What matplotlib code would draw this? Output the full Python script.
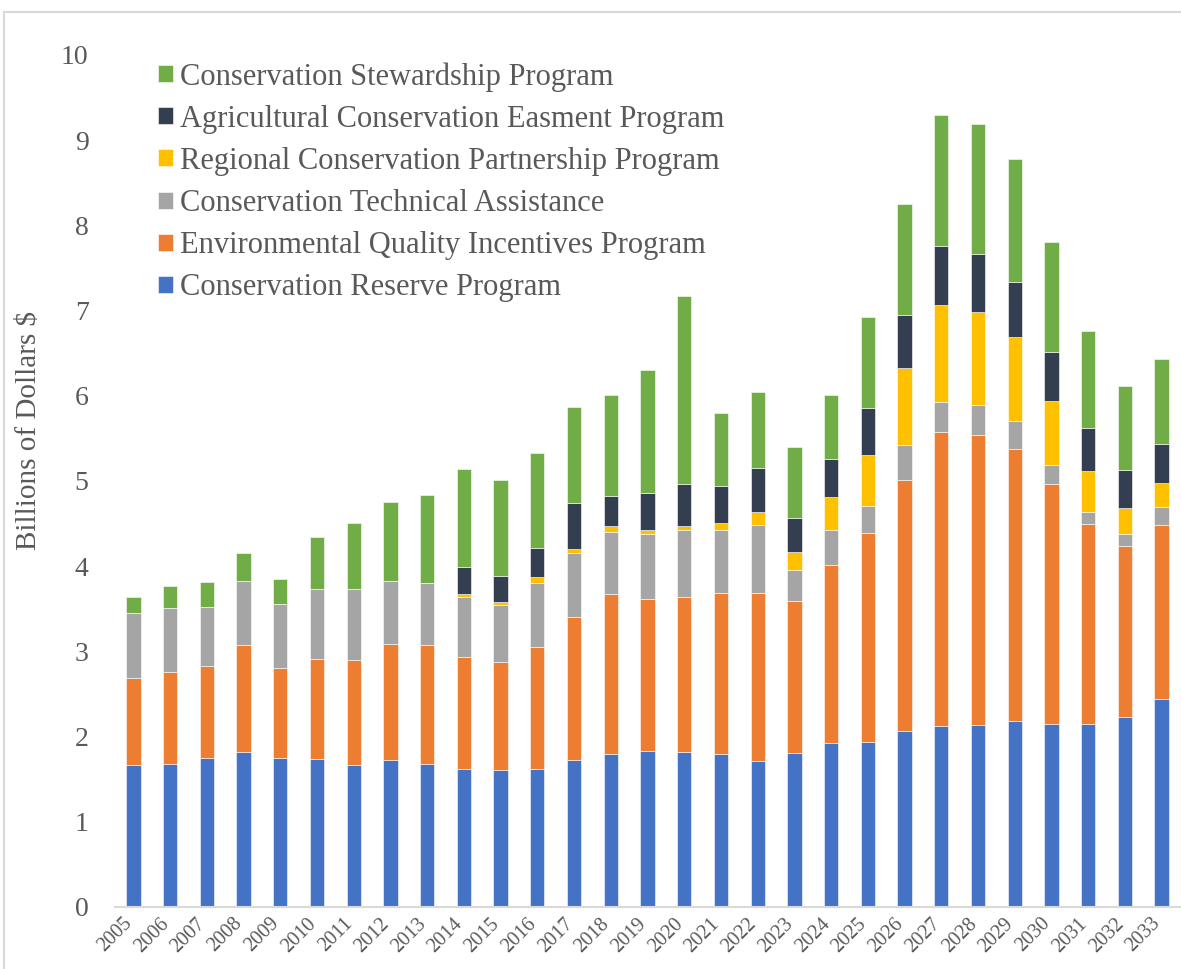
import numpy as np
import matplotlib
matplotlib.use("Agg")
import matplotlib.pyplot as plt
import matplotlib.transforms as mtransforms
from matplotlib.lines import Line2D

plt.rcParams['font.family'] = ['Liberation Serif', 'DejaVu Serif']

years = [str(y) for y in range(2005, 2034)]

# billions of dollars
crp = [1.67, 1.68, 1.75, 1.82, 1.75, 1.74, 1.67, 1.73, 1.68, 1.62, 1.61, 1.62, 1.73, 1.80, 1.83,
       1.82, 1.80, 1.71, 1.81, 1.92, 1.94, 2.07, 2.13, 2.14, 2.18, 2.15, 2.15, 2.23, 2.44]
eqip = [1.02, 1.08, 1.08, 1.25, 1.06, 1.17, 1.23, 1.36, 1.40, 1.32, 1.26, 1.43, 1.67, 1.87, 1.79,
        1.82, 1.88, 1.97, 1.78, 2.09, 2.45, 2.94, 3.44, 3.40, 3.20, 2.82, 2.34, 2.01, 2.04]
cta = [0.76, 0.75, 0.69, 0.76, 0.75, 0.82, 0.83, 0.74, 0.72, 0.70, 0.67, 0.75, 0.76, 0.73, 0.76,
       0.78, 0.75, 0.80, 0.37, 0.41, 0.32, 0.41, 0.36, 0.35, 0.33, 0.22, 0.15, 0.14, 0.21]
rcpp = [0, 0, 0, 0, 0, 0, 0, 0, 0, 0.03, 0.04, 0.07, 0.04, 0.07, 0.05,
        0.05, 0.08, 0.16, 0.21, 0.39, 0.60, 0.91, 1.13, 1.09, 0.98, 0.75, 0.48, 0.30, 0.29]
acep = [0, 0, 0, 0, 0, 0, 0, 0, 0, 0.32, 0.30, 0.34, 0.54, 0.35, 0.43,
        0.49, 0.43, 0.51, 0.39, 0.45, 0.55, 0.62, 0.70, 0.68, 0.65, 0.57, 0.50, 0.45, 0.45]
csp = [0.19, 0.26, 0.29, 0.32, 0.29, 0.61, 0.78, 0.92, 1.03, 1.15, 1.13, 1.12, 1.13, 1.19, 1.44,
       2.21, 0.86, 0.90, 0.84, 0.75, 1.06, 1.30, 1.54, 1.53, 1.44, 1.30, 1.14, 0.99, 1.00]

series = [
    ("Conservation Reserve Program", crp, "#4472C4"),
    ("Environmental Quality Incentives Program", eqip, "#ED7D31"),
    ("Conservation Technical Assistance", cta, "#A5A5A5"),
    ("Regional Conservation Partnership Program", rcpp, "#FFC000"),
    ("Agricultural Conservation Easment Program", acep, "#333F50"),
    ("Conservation Stewardship Program", csp, "#70AD47"),
]

txt = "#595959"
W, H = 1181, 969

fig = plt.figure(figsize=(W / 100, H / 100), dpi=100)
ax = fig.add_axes([115 / W, 1 - 907 / H, 1065 / W, 852 / H])

x = np.arange(len(years))
bottom = np.zeros(len(years))
for name, vals, col in series:
    ax.bar(x, vals, width=0.39, bottom=bottom, color=col, label=name,
           edgecolor="white", linewidth=0.4)
    bottom += np.array(vals)

ax.set_xlim(-0.5, len(years) - 0.5)
ax.set_ylim(0, 10)
ax.set_yticks(range(0, 11))
ax.tick_params(axis='y', length=0, pad=19, labelsize=20, labelcolor=txt)
ax.tick_params(axis='x', length=0, pad=10, labelsize=14.5, labelcolor=txt)
ax.set_xticks(x)
ax.set_xticklabels(years, rotation=45, ha='right', va='center', rotation_mode='anchor')
shift = mtransforms.ScaledTranslation(-4 / 100, 0, fig.dpi_scale_trans)
for lab in ax.get_xticklabels():
    lab.set_transform(lab.get_transform() + shift)

for s in ['top', 'right', 'left']:
    ax.spines[s].set_visible(False)
ax.spines['bottom'].set_color('#D9D9D9')
ax.spines['bottom'].set_linewidth(1.5)

ax.set_ylabel("Billions of Dollars $", fontsize=21, color=txt)
ax.yaxis.set_label_coords((42 - 115) / 1065, (907 - 431) / 852)

h, l = ax.get_legend_handles_labels()
leg = ax.legend(h[::-1], l[::-1], loc='upper left', bbox_to_anchor=(158 / W, 1 - 62 / H),
                bbox_transform=fig.transFigure, frameon=False, fontsize=22,
                handlelength=0.48, handleheight=0.48, handletextpad=0.23,
                labelspacing=0.43, borderpad=0, borderaxespad=0)
for t in leg.get_texts():
    t.set_color(txt)

# chart area border (only top and left edges are visible in the crop)
fig.add_artist(Line2D([4 / W, 1], [1 - 12 / H, 1 - 12 / H], transform=fig.transFigure,
                      color='#D9D9D9', linewidth=1.5))
fig.add_artist(Line2D([4 / W, 4 / W], [0, 1 - 12 / H], transform=fig.transFigure,
                      color='#D9D9D9', linewidth=1.5))

fig.savefig("out.png", dpi=100)
